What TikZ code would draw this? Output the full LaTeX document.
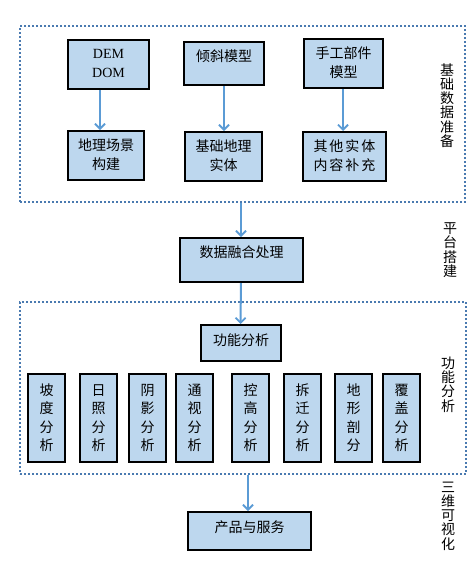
\documentclass[tikz,border=0pt]{standalone}
\usepackage{fontspec}
\setmainfont{Liberation Serif}
\newfontfamily\cjk{Noto Sans CJK SC}
\usetikzlibrary{arrows.meta}
\definecolor{boxfill}{HTML}{BDD7EE}
\definecolor{arrowblue}{HTML}{5B9BD5}
\definecolor{dotblue}{HTML}{4A7AB0}
\newcommand\ttext[1]{\vtop{\halign{\hfil##\hfil\cr#1\crcr}}}
\tikzset{
  box/.style={draw=black, line width=2pt, fill=boxfill, inner sep=0pt, anchor=north west,
    font=\cjk\fontsize{14}{19}\selectfont},
  vbox/.style={box, minimum width=37pt, text height=21pt, text depth=67pt,
    font=\cjk\fontsize{14}{18.5}\selectfont},
  grp/.style={draw=dotblue, line width=2pt, dash pattern=on 2pt off 2pt, inner sep=0pt,
    anchor=north west},
  lab/.style={inner sep=0pt, font=\cjk\fontsize{14}{14.3}\selectfont},
  arr/.style={draw=arrowblue, line width=2pt, -{Straight Barb[length=5pt,width=10pt,line width=1.8pt]}},
}
\begin{document}
\begin{tikzpicture}[x=1pt,y=-1pt]
\useasboundingbox (0,0) rectangle (475,576);
% groups
\node[grp, minimum width=445pt, minimum height=176pt] (g1) at (19,25) {};
\node[grp, minimum width=446pt, minimum height=172pt] (g2) at (19,301) {};
% top row
\node[box, minimum width=81pt, text height=18pt, text depth=31pt, font=\fontsize{14}{19}\selectfont] (dem) at (67,39) {\ttext{DEM\cr DOM}};
\node[box, minimum width=80pt, text height=19pt, text depth=24pt] (qx) at (183,41) {倾斜模型};
\node[box, minimum width=79pt, text height=19pt, text depth=30pt] (sg) at (303,38) {\ttext{手工部件\cr 模型}};
% second row
\node[box, minimum width=76pt, text height=19pt, text depth=30pt] (dl) at (67,130) {\ttext{地理场景\cr 构建}};
\node[box, minimum width=77pt, text height=19pt, text depth=30pt] (jc) at (184,131) {\ttext{基础地理\cr 实体}};
\node[box, minimum width=83pt, text height=19pt, text depth=30pt] (qt) at (302,131) {\ttext{其\hspace{2pt}他\hspace{2pt}实\hspace{2pt}体\cr 内\hspace{2pt}容\hspace{2pt}补\hspace{2pt}充}};
% middle
\node[box, minimum width=123pt, text height=19pt, text depth=25pt] (rh) at (179,237) {数据融合处理};
\node[box, minimum width=80pt, text height=20pt, text depth=16pt] (gn) at (200,324) {功能分析};
% analysis boxes
\node[vbox] (a1) at (27,373) {\ttext{坡\cr 度\cr 分\cr 析}};
\node[vbox] (a2) at (79,373) {\ttext{日\cr 照\cr 分\cr 析}};
\node[vbox] (a3) at (128,373) {\ttext{阴\cr 影\cr 分\cr 析}};
\node[vbox] (a4) at (175,373) {\ttext{通\cr 视\cr 分\cr 析}};
\node[vbox] (a5) at (231,373) {\ttext{控\cr 高\cr 分\cr 析}};
\node[vbox] (a6) at (283,373) {\ttext{拆\cr 迁\cr 分\cr 析}};
\node[vbox] (a7) at (334,373) {\ttext{地\cr 形\cr 剖\cr 分}};
\node[vbox] (a8) at (382,373) {\ttext{覆\cr 盖\cr 分\cr 析}};
% product
\node[box, minimum width=123pt, text height=20pt, text depth=18pt] (cp) at (187,511) {产品与服务};
% side labels
\node[lab] (l1) at (447,105.5) {\ttext{基\cr 础\cr 数\cr 据\cr 准\cr 备}};
\node[lab] (l2) at (450,250) {\ttext{平\cr 台\cr 搭\cr 建}};
\node[lab] (l3) at (448,384.5) {\ttext{功\cr 能\cr 分\cr 析}};
\node[lab] (l4) at (448,516) {\ttext{三\cr 维\cr 可\cr 视\cr 化}};
% arrows
\draw[arr] ([xshift=-8.5pt]dem.south) -- ([xshift=-8.5pt]dem.south |- dl.north);
\draw[arr] (qx.south) -- (qx.south |- jc.north);
\draw[arr] ([xshift=-0.5pt]sg.south) -- ([xshift=-0.5pt]sg.south |- qt.north);
\draw[arr] ([xshift=-0.5pt]g1.south -| rh.north) -- ([xshift=-0.5pt]rh.north);
\draw[arr] ([xshift=-0.5pt]rh.south) -- ([xshift=-0.5pt]gn.north);
\draw[arr] ([xshift=-1.5pt]g2.south -| cp.north) -- ([xshift=-1.5pt]cp.north);
\end{tikzpicture}
\end{document}
